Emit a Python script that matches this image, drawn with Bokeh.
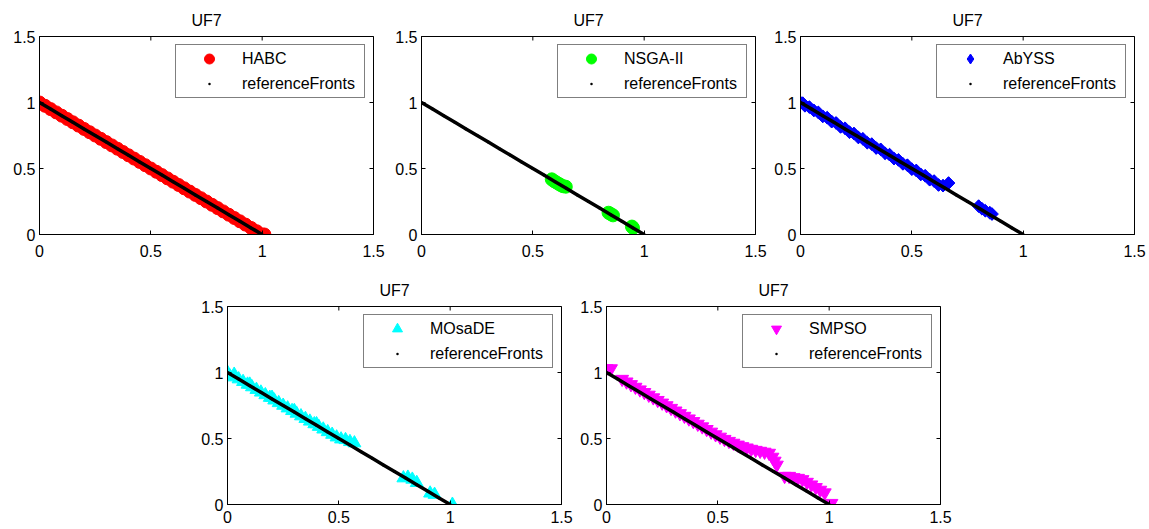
import math
from bokeh.plotting import figure
from bokeh.models import Range1d, FixedTicker, Legend, LegendItem, Spacer
from bokeh.layouts import row, column
from bokeh.embed import file_html
from bokeh.resources import INLINE

TITLE = "UF7"
TICKS = [0, 0.5, 1, 1.5]
TICK_LABELS = ["0", "0.5", "1", "1.5"]
AXIS_MAX = 1.5

# reference front (UF7 true front)
REF_X = [0.00, 0.05, 0.10, 0.15, 0.20, 0.25, 0.30, 0.35, 0.40, 0.45, 0.50,
         0.55, 0.60, 0.65, 0.70, 0.75, 0.80, 0.85, 0.90, 0.95, 1.00]
REF_Y = [1.00, 0.95, 0.90, 0.85, 0.80, 0.75, 0.70, 0.65, 0.60, 0.55, 0.50,
         0.45, 0.40, 0.35, 0.30, 0.25, 0.20, 0.15, 0.10, 0.05, 0.00]

HABC_X = [0.000, 0.025, 0.050, 0.075, 0.100, 0.125, 0.150, 0.175, 0.200, 0.225,
          0.250, 0.275, 0.300, 0.325, 0.350, 0.375, 0.400, 0.425, 0.450, 0.475,
          0.500, 0.525, 0.550, 0.575, 0.600, 0.625, 0.650, 0.675, 0.700, 0.725,
          0.750, 0.775, 0.800, 0.825, 0.850, 0.875, 0.900, 0.925, 0.950, 0.975,
          1.000, 1.010]
HABC_Y = [1.000, 0.975, 0.950, 0.925, 0.900, 0.875, 0.850, 0.825, 0.800, 0.775,
          0.750, 0.725, 0.700, 0.675, 0.650, 0.625, 0.600, 0.575, 0.550, 0.525,
          0.500, 0.475, 0.450, 0.425, 0.400, 0.375, 0.350, 0.325, 0.300, 0.275,
          0.250, 0.225, 0.200, 0.175, 0.150, 0.125, 0.100, 0.075, 0.050, 0.025,
          0.000, 0.000]

NSGA_X = [0.585, 0.595, 0.605, 0.615, 0.625, 0.635, 0.648, 0.840, 0.850, 0.860, 0.945, 0.950]
NSGA_Y = [0.418, 0.405, 0.395, 0.385, 0.375, 0.366, 0.362, 0.165, 0.155, 0.145, 0.060, 0.050]

ABYSS_X = [0.000, 0.010, 0.020, 0.040, 0.060, 0.080, 0.100, 0.120, 0.140, 0.160,
           0.180, 0.200, 0.220, 0.240, 0.260, 0.280, 0.300, 0.320, 0.340, 0.360,
           0.380, 0.400, 0.420, 0.440, 0.460, 0.480, 0.500, 0.520, 0.540, 0.560,
           0.580, 0.600, 0.620, 0.640, 0.665, 0.800, 0.815, 0.830, 0.850, 0.860]
ABYSS_Y = [1.000, 0.995, 0.975, 0.965, 0.940, 0.925, 0.895, 0.885, 0.855, 0.845,
           0.815, 0.805, 0.775, 0.765, 0.735, 0.725, 0.695, 0.685, 0.655, 0.645,
           0.615, 0.605, 0.575, 0.565, 0.535, 0.525, 0.495, 0.485, 0.455, 0.445,
           0.415, 0.405, 0.375, 0.370, 0.390, 0.215, 0.195, 0.180, 0.165, 0.155]

MOSADE_X = [0.000, 0.010, 0.030, 0.050, 0.070, 0.090, 0.110, 0.130, 0.150, 0.170,
            0.190, 0.210, 0.230, 0.250, 0.270, 0.290, 0.310, 0.330, 0.350, 0.370,
            0.390, 0.410, 0.430, 0.450, 0.470, 0.490, 0.510, 0.530, 0.550, 0.570,
            0.030, 0.100, 0.200, 0.300, 0.400,
            0.790, 0.810, 0.830, 0.850, 0.910, 0.930, 1.010]
MOSADE_Y = [1.000, 0.975, 0.965, 0.950, 0.930, 0.910, 0.890, 0.870, 0.850, 0.830,
            0.810, 0.790, 0.770, 0.750, 0.730, 0.710, 0.690, 0.670, 0.650, 0.630,
            0.610, 0.590, 0.570, 0.550, 0.530, 0.510, 0.495, 0.490, 0.475, 0.465,
            0.985, 0.910, 0.810, 0.710, 0.610,
            0.200, 0.205, 0.190, 0.165, 0.085, 0.075, 0.000]

SMPSO_X = [0.000, 0.020, 0.070, 0.090, 0.110, 0.130, 0.150, 0.170, 0.190, 0.210,
           0.230, 0.250, 0.270, 0.290, 0.310, 0.330, 0.350, 0.370, 0.390, 0.410,
           0.430, 0.450, 0.470, 0.490, 0.510, 0.530, 0.550, 0.570, 0.590, 0.610,
           0.630, 0.650, 0.670, 0.690, 0.710, 0.730, 0.745, 0.755, 0.765,
           0.800, 0.820, 0.840, 0.860, 0.880, 0.900, 0.920, 0.940, 0.960, 0.980, 1.010]
SMPSO_Y = [1.030, 1.030, 0.950, 0.930, 0.910, 0.890, 0.870, 0.850, 0.830, 0.810,
           0.790, 0.770, 0.750, 0.730, 0.710, 0.690, 0.670, 0.650, 0.630, 0.610,
           0.590, 0.570, 0.550, 0.530, 0.512, 0.495, 0.480, 0.466, 0.452, 0.440,
           0.430, 0.420, 0.412, 0.405, 0.398, 0.390, 0.360, 0.330, 0.300,
           0.215, 0.215, 0.205, 0.200, 0.190, 0.170, 0.150, 0.130, 0.110, 0.090, 0.010]

FONT = "Liberation Sans"
FS = "16px"
FW, FH = 334, 198


def style_axis(ax, standoff):
    ax.ticker = FixedTicker(ticks=TICKS)
    ax.major_tick_in = 4
    ax.major_tick_out = 0
    ax.minor_tick_in = 0
    ax.minor_tick_out = 0
    ax.axis_line_color = "black"
    ax.axis_line_width = 1
    ax.major_tick_line_color = "black"
    ax.major_label_overrides = {t: s for t, s in zip(TICKS, TICK_LABELS)}
    ax.major_label_text_font = FONT
    ax.major_label_text_font_size = FS
    ax.major_label_text_color = "black"
    ax.major_label_standoff = standoff


def panel(name, xs, ys, marker, color, size, bl, br, bt, bb, xstandoff,
          angle=0.0, legend_marker=None, legend_size=None):
    p = figure(frame_width=FW, frame_height=FH,
               x_range=Range1d(0, AXIS_MAX), y_range=Range1d(0, AXIS_MAX),
               output_backend="svg", toolbar_location=None, title=TITLE,
               min_border_left=bl, min_border_right=br,
               min_border_top=bt, min_border_bottom=bb,
               background_fill_color="white", border_fill_color="white")
    p.grid.visible = False
    p.outline_line_color = "black"
    p.outline_line_alpha = 1.0
    p.outline_line_width = 1
    p.title.align = "center"
    p.title.text_font = FONT
    p.title.text_font_size = FS
    p.title.text_font_style = "normal"
    p.title.text_color = "black"
    p.title.standoff = 15
    style_axis(p.xaxis[0], xstandoff)
    style_axis(p.yaxis[0], 4)

    # inward tick marks on the top and right edges of the box
    edge = [AXIS_MAX] * len(TICKS)
    p.scatter(TICKS, edge, marker="dash", size=8, angle=math.pi / 2,
              line_color="black", line_width=1)
    p.scatter(edge, TICKS, marker="dash", size=8,
              line_color="black", line_width=1)

    leg_r = None
    if legend_marker is not None:
        # same points drawn with the legend's marker shape, hidden under the main markers
        leg_r = p.scatter(xs, ys, marker=legend_marker, size=legend_size,
                          fill_color=color, line_color=color)
    r = p.scatter(xs, ys, marker=marker, size=size, angle=angle,
                  fill_color=color, line_color=color)
    if leg_r is None:
        leg_r = r
    p.line(REF_X, REF_Y, line_color="black", line_width=3.5)
    dots = p.scatter(REF_X, REF_Y, marker="dot", size=12,
                     line_color="black", fill_color="black")
    legend = Legend(items=[LegendItem(label=name, renderers=[leg_r]),
                           LegendItem(label="referenceFronts", renderers=[dots])],
                    location="top_right", margin=8, padding=1, spacing=0,
                    glyph_width=64, glyph_height=25, label_height=25,
                    label_width=121, label_standoff=1,
                    border_line_color="black", border_line_width=1,
                    background_fill_color="white", background_fill_alpha=1.0,
                    label_text_font=FONT, label_text_font_size=FS,
                    label_text_color="black")
    p.add_layout(legend)
    return p


p1 = panel("HABC", HABC_X, HABC_Y, "circle", "#FF0000", 13, 39, 17, 36, 29, 10)
p2 = panel("NSGA-II", NSGA_X, NSGA_Y, "circle", "#00FF00", 13, 31, 14, 36, 29, 10)
p3 = panel("AbYSS", ABYSS_X, ABYSS_Y, "square", "#0000FF", 9, 31, 13, 36, 29, 10,
           angle=math.pi / 4, legend_marker="diamond", legend_size=12)
p4 = panel("MOsaDE", MOSADE_X, MOSADE_Y, "triangle", "#00FFFF", 13, 31, 14, 43, 24, 6)
p5 = panel("SMPSO", SMPSO_X, SMPSO_Y, "inverted_triangle", "#FF00FF", 13, 31, 13, 43, 24, 6)

layout = column(row(p1, p2, p3), row(Spacer(width=196, height=10), p4, p5))

open("out.html", "w").write(file_html(layout, INLINE))
